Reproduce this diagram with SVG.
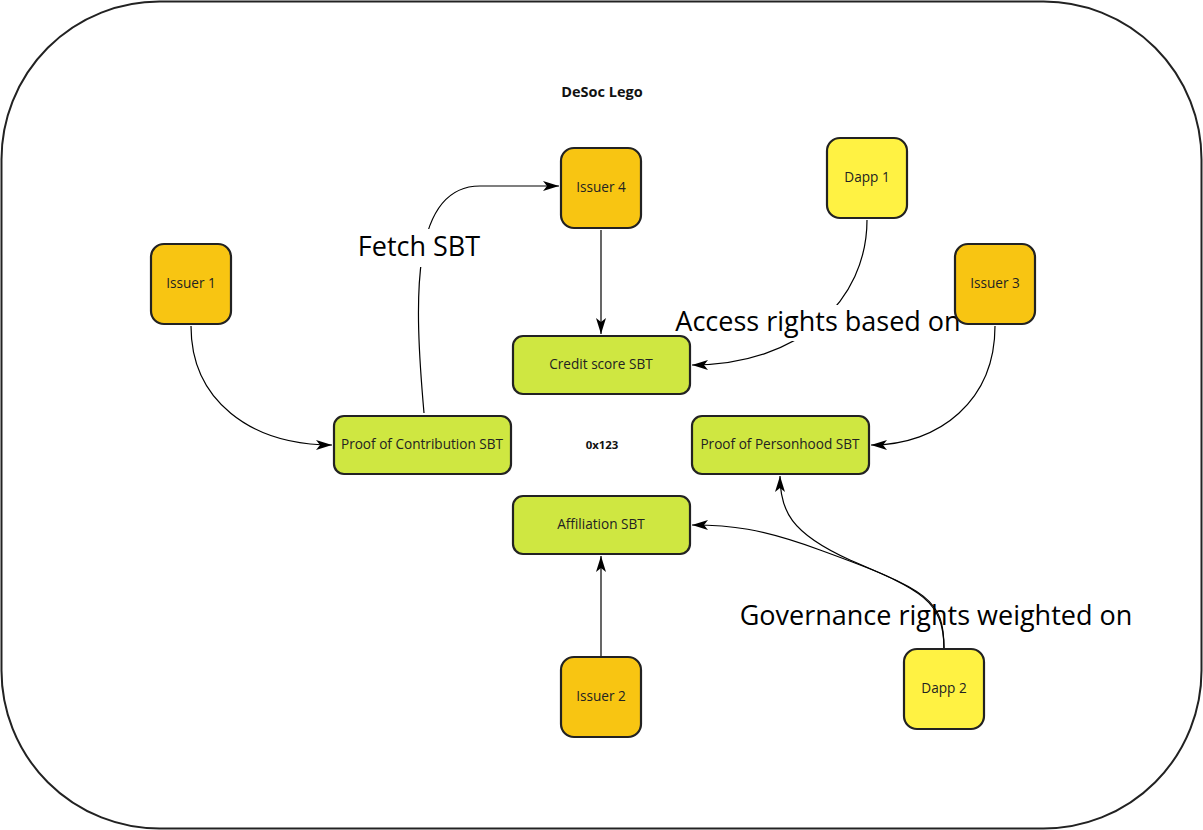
<svg xmlns="http://www.w3.org/2000/svg" width="1203" height="830" viewBox="0 0 1203 830">
<defs>
<style>
.frame{fill:#fff;stroke:#222;stroke-width:2}
.issuer{fill:#F8C512;stroke:#222;stroke-width:2.2}
.dapp{fill:#FFF243;stroke:#222;stroke-width:2.2}
.sbt{fill:#CFE741;stroke:#222;stroke-width:2.2}
.nt{font-family:"Open Sans","Noto Sans","Liberation Sans",sans-serif;font-size:13.6px;fill:#222;text-anchor:middle}
.title{font-family:"Open Sans","Noto Sans","Liberation Sans",sans-serif;font-size:14.5px;font-weight:bold;fill:#111;text-anchor:middle}
.lbl{font-family:"Open Sans","Noto Sans","Liberation Sans",sans-serif;font-size:27px;fill:#000;text-anchor:middle}
.c{fill:none;stroke:#000;stroke-width:1.2}
</style>
<marker id="arr" viewBox="0 0 16 10" refX="16" refY="5" markerWidth="16" markerHeight="10" markerUnits="userSpaceOnUse" orient="auto">
<path d="M0,0 L16,5 L0,10 L4,5 Z" fill="#000"/>
</marker>
</defs>
<rect class="frame" x="1.5" y="1.5" width="1200" height="827" rx="158" ry="158"/>
<text class="title" x="602" y="97">DeSoc Lego</text>
<text class="title" x="602" y="449" style="font-size:11.4px">0x123</text>

<g id="connectors">
<path class="c" d="M191,326 C191,400 250,445 332,445" marker-end="url(#arr)"/>
<path class="c" d="M424,413 C414,300 410,186 480,186 L559,186" marker-end="url(#arr)"/>
<path class="c" d="M601,230 L601,334" marker-end="url(#arr)"/>
<path class="c" d="M867,220 C867,300 800,365 692,365" marker-end="url(#arr)"/>
<path class="c" d="M995,326 C995,400 940,445 871,445" marker-end="url(#arr)"/>
<path class="c" d="M601,657 L601,556" marker-end="url(#arr)"/>
<path class="c" d="M944,649 C944,600 930,590 820,550 C760,528 730,525 692,525" marker-end="url(#arr)"/>
<path class="c" d="M944,649 C944,600 920,590 850,560 C790,533 780,510 780,476" marker-end="url(#arr)"/>
<rect x="400" y="229" width="40" height="38" fill="#fff"/>
<text class="lbl" x="419" y="256">Fetch SBT</text>
<rect x="770" y="305" width="95" height="36" fill="#fff"/>
<text class="lbl" x="818" y="331">Access rights based on</text>
<text class="lbl" x="936" y="625">Governance rights weighted on</text>
</g>

<g id="issuer1"><rect class="issuer" x="151" y="244" width="80" height="80" rx="13"/><text class="nt" x="191" y="288">Issuer 1</text></g>
<g id="issuer4"><rect class="issuer" x="561" y="148" width="80" height="80" rx="13"/><text class="nt" x="601" y="192">Issuer 4</text></g>
<g id="dapp1"><rect class="dapp" x="827" y="138" width="80" height="80" rx="13"/><text class="nt" x="867" y="182">Dapp 1</text></g>
<g id="issuer3"><rect class="issuer" x="955" y="244" width="80" height="80" rx="13"/><text class="nt" x="995" y="288">Issuer 3</text></g>
<g id="credit"><rect class="sbt" x="513" y="336" width="177" height="58" rx="10"/><text class="nt" x="601" y="369">Credit score SBT</text></g>
<g id="poc"><rect class="sbt" x="334" y="416" width="177" height="58" rx="10"/><text class="nt" x="422" y="449">Proof of Contribution SBT</text></g>
<g id="pop"><rect class="sbt" x="692" y="416" width="177" height="58" rx="10"/><text class="nt" x="780" y="449">Proof of Personhood SBT</text></g>
<g id="affiliation"><rect class="sbt" x="513" y="496" width="177" height="58" rx="10"/><text class="nt" x="601" y="529">Affiliation SBT</text></g>
<g id="issuer2"><rect class="issuer" x="561" y="657" width="80" height="80" rx="13"/><text class="nt" x="601" y="701">Issuer 2</text></g>
<g id="dapp2"><rect class="dapp" x="904" y="649" width="80" height="80" rx="13"/><text class="nt" x="944" y="693">Dapp 2</text></g>
</svg>
